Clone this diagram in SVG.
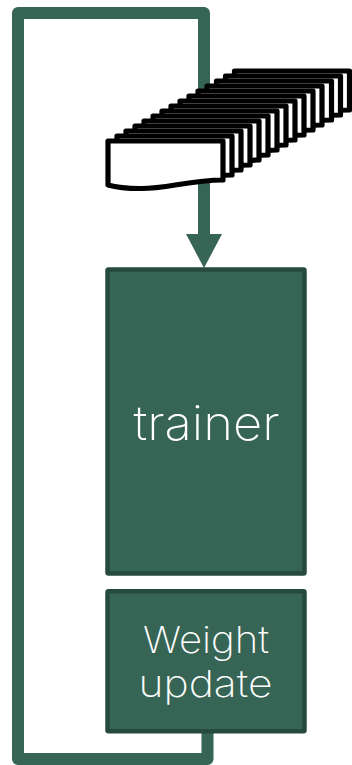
<svg xmlns="http://www.w3.org/2000/svg" width="352" height="765" viewBox="0 0 352 765">
<style>
.loop{fill:none;stroke:#376555;stroke-width:12;stroke-linejoin:round}
.box{fill:#376555;stroke:#274a3e;stroke-width:4.5;stroke-linejoin:round}
.lbl{font-family:"Inter","Lato","Noto Sans",sans-serif;font-weight:200;fill:#fff;text-anchor:middle}
.doc{fill:#fff;stroke:#000;stroke-width:5.200;stroke-linejoin:round}
</style>
<defs>
<path id="d" class="doc" d="M108 141H223V180C190 180 165 189 140 188.500C125 188.500 115 187 108 185Z"/>
</defs>
<rect width="352" height="765" fill="#fff"/>
<g id="connectors">
<path class="loop" d="M204 236V13H18V759H207.500V730"/>
<path d="M186 234H222L204 268Z" fill="#376555"/>
</g>
<g id="document-stack">
<use href="#d" x="126.500" y="-70"/>
<use href="#d" x="117.500" y="-65"/>
<use href="#d" x="108.500" y="-60"/>
<use href="#d" x="99" y="-55"/>
<use href="#d" x="90" y="-50"/>
<use href="#d" x="81" y="-45"/>
<use href="#d" x="72" y="-40"/>
<use href="#d" x="63" y="-35"/>
<use href="#d" x="54" y="-30"/>
<use href="#d" x="45" y="-25"/>
<use href="#d" x="36" y="-20"/>
<use href="#d" x="27" y="-15"/>
<use href="#d" x="18" y="-10"/>
<use href="#d" x="9" y="-5"/>
<use href="#d"/>
</g>
<g id="trainer">
<rect class="box" x="107.500" y="269.500" width="197" height="304" rx="1"/>
<text class="lbl" x="206.500" y="440" font-size="48" textLength="146" lengthAdjust="spacingAndGlyphs">trainer</text>
</g>
<g id="weight-update">
<rect class="box" x="107.500" y="591.200" width="197" height="140" rx="1"/>
<text class="lbl" x="206" y="652.500" font-size="37" textLength="126" lengthAdjust="spacingAndGlyphs">Weight</text>
<text class="lbl" x="205.500" y="697" font-size="37" textLength="134" lengthAdjust="spacingAndGlyphs">update</text>
</g>
</svg>
